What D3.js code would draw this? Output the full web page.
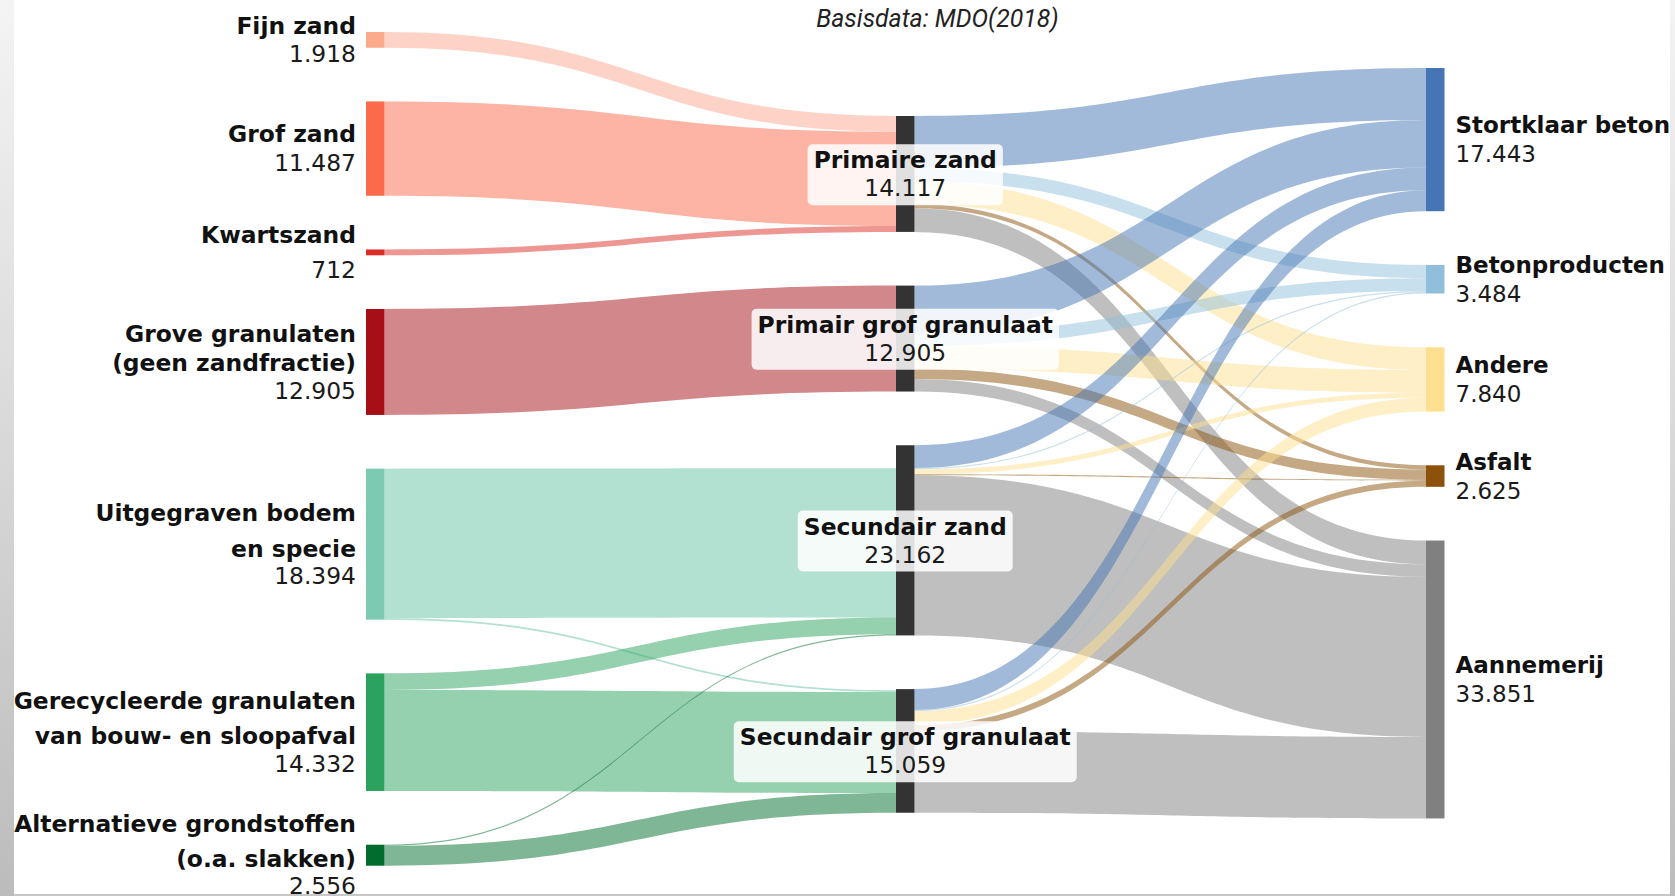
<!DOCTYPE html>
<html>
<head>
<meta charset="utf-8">
<script src="https://cdn.jsdelivr.net/npm/d3@7"></script>
<style>
html, body { margin: 0; padding: 0; background: #ffffff; }
svg { display: block; }
</style>
</head>
<body>
<svg id="chart" width="1675" height="896"></svg>
<script>
// ------------------------------------------------------------------
// DATA (kton)
// ------------------------------------------------------------------
const title = "Basisdata: MDO(2018)";

const sourceLabelLines = [
  ["Fijn zand"],
  ["Grof zand"],
  ["Kwartszand"],
  ["Grove granulaten", "(geen zandfractie)"],
  ["Uitgegraven bodem", "en specie"],
  ["Gerecycleerde granulaten", "van bouw- en sloopafval"],
  ["Alternatieve grondstoffen", "(o.a. slakken)"]
];
const sourceValues = [1918, 11487, 712, 12905, 18394, 14332, 2556];

const middleNames = ["Primaire zand", "Primair grof granulaat", "Secundair zand", "Secundair grof granulaat"];
const middleValues = [14117, 12905, 23162, 15059];

const useNames = ["Stortklaar beton", "Betonproducten", "Andere", "Asfalt", "Aannemerij"];
const useValues = [17443, 3484, 7840, 2625, 33851];

// grondstof -> tussenproduct
const inLinkSource = [0, 1, 2, 3, 4, 4, 5, 5, 6, 6];
const inLinkTarget = [0, 0, 0, 1, 2, 3, 2, 3, 2, 3];
const inLinkValue  = [1918, 11487, 712, 12905, 18194, 200, 2030, 12302, 150, 2406];

// tussenproduct -> toepassing (order: Stortklaar beton, Betonproducten, Andere, Asfalt, Aannemerij)
const outPrimaireZand      = [6338, 1615, 2774, 500, 2890];
const outPrimairGrof       = [5775, 1578, 2774, 1250, 1528];
const outSecundairZand     = [2786, 146, 603, 125, 19502];
const outSecundairGrof     = [2544, 145, 1689, 750, 9931];
const outMatrix = [outPrimaireZand, outPrimairGrof, outSecundairZand, outSecundairGrof];

// ------------------------------------------------------------------
// STYLE / LAYOUT
// ------------------------------------------------------------------
const sourceNodeColors = ["#fcaa8c", "#fb6a4a", "#de2d26", "#a50f15", "#7ccab1", "#2ca25f", "#006d2c"];
const sourceLinkColors = ["rgba(252,146,114,0.4)", "rgba(251,106,74,0.5)", "rgba(222,45,38,0.5)",
  "rgba(165,15,21,0.5)", "rgba(102,194,164,0.5)", "rgba(44,162,95,0.5)", "rgba(0,109,44,0.5)"];
const middleNodeColor = "#333333";
const useNodeColors = ["#4575b4", "#91bfdb", "#fee090", "#8c510a", "#808080"];
const useLinkColors = ["rgba(69,117,180,0.5)", "rgba(145,191,219,0.5)", "rgba(254,224,144,0.5)",
  "rgba(140,81,10,0.5)", "rgba(128,128,128,0.5)"];

const columnX = [366, 896, 1426];
const columnTop = [32, 116, 68];
const nodeWidth = 18.5;
const nodePad = 53.7;
const sourceLineGaps = [[28.5], [29], [35], [29, 28], [36, 27], [35, 28], [35, 27]];
const capHeight = 16.5;

const fmt = d3.formatLocale({decimal: ",", thousands: ".", grouping: [3], currency: ["", ""]}).format(",d");
const k = d3.scaleLinear().domain([0, 1000]).range([0, 8.21]);

const svg = d3.select("#chart");
svg.append("rect").attr("x", 0).attr("y", 0).attr("width", 1675).attr("height", 896).attr("fill", "#ffffff");

// ------------------------------------------------------------------
// NODES
// ------------------------------------------------------------------
function buildColumn(values, col, extra) {
  let y = columnTop[col];
  return values.map((v, i) => {
    const h = k(v);
    const n = Object.assign({col, idx: i, value: v, x0: columnX[col], x1: columnX[col] + nodeWidth,
      y0: y, y1: y + h, inLinks: [], outLinks: []}, extra(i));
    y += h + nodePad;
    return n;
  });
}
const sourceNodes = buildColumn(sourceValues, 0, i => ({lines: sourceLabelLines[i], color: sourceNodeColors[i]}));
const middleNodes = buildColumn(middleValues, 1, i => ({lines: [middleNames[i]], color: middleNodeColor}));
const useNodes = buildColumn(useValues, 2, i => ({lines: [useNames[i]], color: useNodeColors[i]}));

// ------------------------------------------------------------------
// LINKS
// ------------------------------------------------------------------
const links = [];
inLinkValue.forEach((v, i) => {
  const s = sourceNodes[inLinkSource[i]], t = middleNodes[inLinkTarget[i]];
  links.push({source: s, target: t, value: v, color: sourceLinkColors[inLinkSource[i]]});
});
outMatrix.forEach((row, mi) => {
  row.forEach((v, ui) => {
    links.push({source: middleNodes[mi], target: useNodes[ui], value: v, color: useLinkColors[ui]});
  });
});
links.forEach(l => { l.source.outLinks.push(l); l.target.inLinks.push(l); });

const allNodes = sourceNodes.concat(middleNodes, useNodes);
allNodes.forEach(n => {
  // links are stacked so that they end at the node's bottom edge
  const outSum = d3.sum(n.outLinks, l => l.value);
  let y = n.y0 + k(n.value - outSum);
  n.outLinks.sort((a, b) => a.target.y0 - b.target.y0).forEach(l => {
    l.sy0 = y; y += k(l.value); l.sy1 = y;
  });
  const inSum = d3.sum(n.inLinks, l => l.value);
  y = n.y0 + k(n.value - inSum);
  n.inLinks.sort((a, b) => a.source.y0 - b.source.y0).forEach(l => {
    l.ty0 = y; y += k(l.value); l.ty1 = y;
  });
});

function linkPath(l) {
  const x0 = l.source.x1, x1 = l.target.x0, xm = (x0 + x1) / 2;
  return `M${x0},${l.sy0}C${xm},${l.sy0} ${xm},${l.ty0} ${x1},${l.ty0}` +
         `L${x1},${l.ty1}C${xm},${l.ty1} ${xm},${l.sy1} ${x0},${l.sy1}Z`;
}

svg.append("g").attr("class", "links")
  .selectAll("path").data(links).join("path")
  .attr("d", linkPath)
  .attr("fill", d => d.color)
  .attr("stroke", "none");

svg.append("g").attr("class", "nodes")
  .selectAll("rect").data(allNodes).join("rect")
  .attr("x", d => d.x0).attr("y", d => d.y0)
  .attr("width", d => d.x1 - d.x0).attr("height", d => d.y1 - d.y0)
  .attr("fill", d => d.color);

// ------------------------------------------------------------------
// LABELS
// ------------------------------------------------------------------
const FONT = "'DejaVu Sans', Verdana, sans-serif";

function drawLabel(g, n, x, anchor, size, gaps) {
  const lines = n.lines.map(t => ({text: t, bold: true})).concat([{text: fmt(n.value), bold: false}]);
  const G = d3.sum(gaps);
  const cy = (n.y0 + n.y1) / 2;
  let b = cy - (G - capHeight) / 2;
  const t = g.append("g");
  lines.forEach((ln, i) => {
    t.append("text")
      .attr("x", x).attr("y", b)
      .attr("text-anchor", anchor)
      .attr("font-family", FONT)
      .attr("font-size", size)
      .attr("font-weight", ln.bold ? "bold" : "normal")
      .attr("fill", ln.bold ? "#111111" : "#1a1a1a")
      .text(ln.text);
    if (i < gaps.length) b += gaps[i];
  });
  return t;
}

const labels = svg.append("g").attr("class", "labels");
sourceNodes.forEach((n, i) => drawLabel(labels, n, n.x0 - 10, "end", 23.4, sourceLineGaps[i]));
useNodes.forEach(n => drawLabel(labels, n, n.x1 + 11, "start", 23, [29]));
middleNodes.forEach(n => {
  const box = labels.append("rect");
  const t = drawLabel(labels, n, (n.x0 + n.x1) / 2, "middle", 23.4, [28]);
  const bb = t.node().getBBox();
  const texts = t.selectAll("text").nodes();
  const b0 = +texts[0].getAttribute("y"), b1 = +texts[texts.length - 1].getAttribute("y");
  box.attr("x", bb.x - 6).attr("width", bb.width + 12)
     .attr("y", b0 - 24).attr("height", (b1 + 9) - (b0 - 24))
     .attr("rx", 5).attr("ry", 5)
     .attr("fill", "rgba(255,255,255,0.85)");
});

svg.append("text")
  .attr("x", 937.5).attr("y", 27)
  .attr("text-anchor", "middle")
  .attr("font-family", "Roboto, 'Open Sans', sans-serif")
  .attr("font-style", "italic")
  .attr("font-size", 24.8)
  .attr("fill", "#222222")
  .text(title);

// frame decorations (screenshot edges)
const defs = svg.append("defs");
const grad = defs.append("linearGradient").attr("id", "edge").attr("x1", 0).attr("y1", 0).attr("x2", 0).attr("y2", 1);
grad.append("stop").attr("offset", "0%").attr("stop-color", "#f4f4f4");
grad.append("stop").attr("offset", "100%").attr("stop-color", "#bcbcbc");
svg.append("rect").attr("x", 0).attr("y", 0).attr("width", 14).attr("height", 896).attr("fill", "url(#edge)");
svg.append("rect").attr("x", 1670).attr("y", 0).attr("width", 5).attr("height", 896).attr("fill", "url(#edge)");
svg.append("rect").attr("x", 14).attr("y", 894).attr("width", 1656).attr("height", 2).attr("fill", "#c8c8c8");
</script>
</body>
</html>
